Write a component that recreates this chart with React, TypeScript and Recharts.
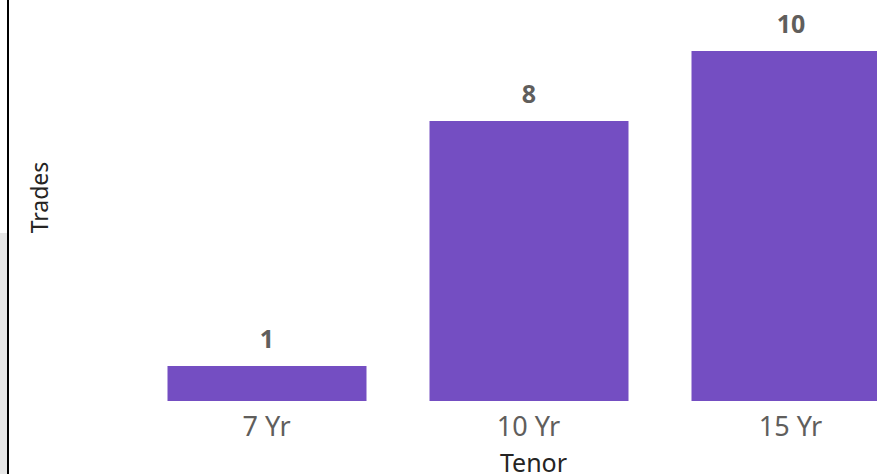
import { BarChart, Bar, XAxis, YAxis, LabelList } from "recharts";

const tenors = ["7 Yr", "10 Yr", "15 Yr"];
const trades = [1, 8, 10];

const data = tenors.map((tenor, i) => ({ tenor, trades: trades[i] }));

const FONT = "'Noto Sans', 'Open Sans', sans-serif";

export default function App() {
  return (
    <div
      style={{
        position: "fixed",
        top: 0,
        left: 0,
        width: 877,
        height: 474,
        overflow: "hidden",
        background: "#fff",
        fontFamily: FONT,
      }}
    >
      <div style={{ position: "absolute", left: 0, top: 233, width: 7, height: 241, background: "#e6e6e6" }} />
      <div style={{ position: "absolute", left: 7, top: 0, width: 2, height: 474, background: "#000" }} />
      <div style={{ position: "absolute", left: 0, top: 0 }}>
        <BarChart
          width={960}
          height={474}
          data={data}
          margin={{ top: 51, right: 38.5, bottom: 0, left: 0 }}
        >
          <XAxis
            dataKey="tenor"
            axisLine={false}
            tickLine={false}
            tickSize={0}
            tickMargin={16}
            height={73}
            tick={{ fill: "#605E5C", fontSize: 27, fontFamily: FONT }}
            label={{
              value: "Tenor",
              position: "insideBottom",
              offset: 2,
              dx: 5,
              fill: "#252423",
              fontSize: 25,
              fontFamily: FONT,
            }}
          />
          <YAxis
            domain={[0, 10]}
            axisLine={false}
            tickLine={false}
            tick={false}
            width={135.5}
            label={{
              value: "Trades",
              content: () => (
                <text
                  transform="translate(39,197.5) rotate(-90)"
                  textAnchor="middle"
                  dominantBaseline="central"
                  fill="#252423"
                  fontSize={23}
                  fontFamily={FONT}
                >
                  Trades
                </text>
              ),
            }}
          />
          <Bar dataKey="trades" fill="#744EC2" barSize={199} isAnimationActive={false}>
            <LabelList
              dataKey="trades"
              position="top"
              offset={18}
              fill="#605E5C"
              fontSize={25}
              fontWeight="bold"
              fontFamily={FONT}
            />
          </Bar>
        </BarChart>
      </div>
    </div>
  );
}
